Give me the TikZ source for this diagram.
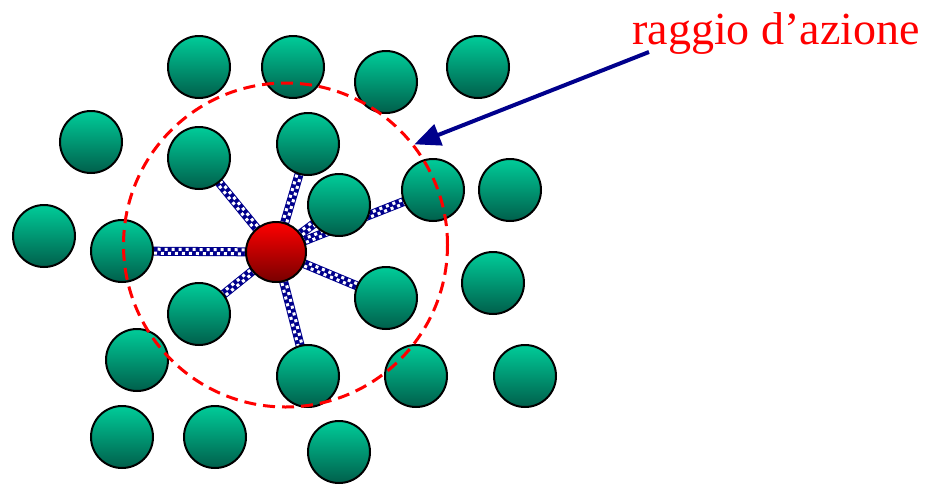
\documentclass[tikz,border=0pt]{standalone}
\usepackage{fontspec}
\setmainfont{Liberation Serif}
\usetikzlibrary{backgrounds,decorations.markings,arrows.meta}
\definecolor{navyb}{RGB}{0,0,140}
\definecolor{teallight}{RGB}{0,204,153}
\definecolor{tealdark}{RGB}{0,95,75}
\definecolor{reddark}{RGB}{120,0,0}
\tikzset{
  sensor/.style={circle, draw=black, line width=2pt, minimum size=62pt, inner sep=0pt,
    top color=teallight, bottom color=tealdark},
  hub/.style={circle, draw=black, line width=2pt, minimum size=60pt, inner sep=0pt,
    top color=red, bottom color=reddark},
  link/.style={line width=9pt, draw=navyb, postaction={decorate},
    decoration={markings, mark=between positions 0 and 1 step 7pt with {
      \fill[white] (0pt,0.5pt) rectangle (3pt,3.5pt);
      \fill[white] (3.5pt,-0.5pt) rectangle (6.5pt,-3.5pt);}}},
  rangering/.style={circle, draw=red, line width=3pt, dash pattern=on 12pt off 7pt,
    minimum size=324pt, inner sep=0pt},
  pointer/.style={draw=navyb, line width=4pt, -{Triangle[length=26pt,width=22pt]}}
}
\begin{document}
\begin{tikzpicture}[x=1pt,y=-1pt]
\useasboundingbox (0,0) rectangle (929,485);
\node[sensor] (n1) at (199,67) {};
\node[sensor] (n2) at (293,67) {};
\node[sensor] (n3) at (386,82) {};
\node[sensor] (n4) at (478,67) {};
\node[sensor] (n5) at (91,142) {};
\node[sensor] (n6) at (199,158) {};
\node[sensor] (n7) at (308,144) {};
\node[sensor] (n8) at (339,205) {};
\node[sensor] (n9) at (433,190) {};
\node[sensor] (n10) at (510,190) {};
\node[sensor] (n11) at (44,236) {};
\node[sensor] (n12) at (122,251) {};
\node[sensor] (n13) at (493,283) {};
\node[sensor] (n14) at (386,298) {};
\node[sensor] (n15) at (199,314) {};
\node[sensor] (n16) at (137,360) {};
\node[sensor] (n17) at (308,376) {};
\node[sensor] (n18) at (416,376) {};
\node[sensor] (n19) at (525,376) {};
\node[sensor] (n20) at (122,437) {};
\node[sensor] (n21) at (215,437) {};
\node[sensor] (n22) at (339,452) {};
\node[hub] (hub) at (276,252) {};
\begin{scope}[on background layer]
\foreach \t in {n6,n7,n8,n9,n12,n14,n15,n17}
  \draw[link] (hub.center) -- (\t.center);
\end{scope}
\node[rangering] (range) at (285.5,245) {};
\node[red, font=\fontsize{46}{52}\selectfont, anchor=base east, inner sep=0pt] (label) at (920,44) {raggio d’azione};
\coordinate (tail) at (649,52);
\draw[pointer] (tail) -- (range.38);
\end{tikzpicture}
\end{document}
